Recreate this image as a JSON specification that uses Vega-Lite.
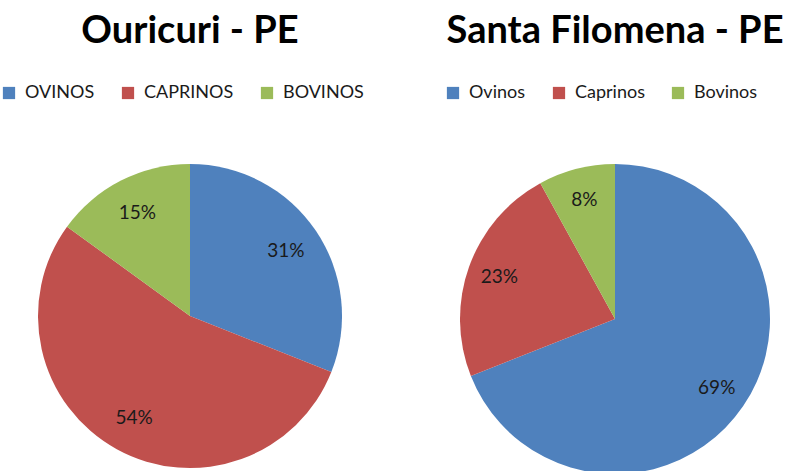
{
  "$schema": "https://vega.github.io/schema/vega-lite/v6.json",
  "background": "white",
  "padding": {"top": 13, "left": 0, "right": 0, "bottom": 0},
  "spacing": 64,
  "config": {
    "view": {"stroke": null},
    "font": "Lato",
    "title": {"fontSize": 38, "fontWeight": "bold", "color": "#000000", "frame": "group", "anchor": "middle", "offset": 33},
    "legend": {
      "orient": "top",
      "direction": "horizontal",
      "title": null,
      "symbolType": "square",
      "symbolSize": 150,
      "symbolStrokeWidth": 0,
      "symbolOpacity": 1,
      "labelFontSize": 18,
      "labelColor": "#1a1a1a",
      "labelOffset": 7,
      "columnPadding": 24,
      "padding": 0,
      "offset": 7
    }
  },
  "hconcat": [
    {
      "width": 380,
      "height": 414,
      "title": "Ouricuri - PE",
      "data": {"values": [
        {"categoria": "OVINOS", "fracao": 0.31, "ordem": 1},
        {"categoria": "CAPRINOS", "fracao": 0.54, "ordem": 2},
        {"categoria": "BOVINOS", "fracao": 0.15, "ordem": 3}
      ]},
      "encoding": {
        "theta": {"field": "fracao", "type": "quantitative", "stack": true},
        "order": {"field": "ordem", "type": "quantitative"}
      },
      "layer": [
        {
          "mark": {"type": "arc", "outerRadius": 152},
          "encoding": {
            "color": {
              "field": "categoria", "type": "nominal",
              "scale": {"domain": ["OVINOS", "CAPRINOS", "BOVINOS"], "range": ["#4F81BD", "#C0504D", "#9BBB59"]},
              "legend": {"title": null}
            }
          }
        },
        {
          "mark": {"type": "text", "radius": 116, "fontSize": 19, "color": "#1a1a1a"},
          "encoding": {"text": {"field": "fracao", "type": "quantitative", "format": ".0%"}}
        }
      ]
    },
    {
      "width": 342,
      "height": 420,
      "title": "Santa Filomena - PE",
      "data": {"values": [
        {"categoria": "Ovinos", "fracao": 0.69, "ordem": 1},
        {"categoria": "Caprinos", "fracao": 0.23, "ordem": 2},
        {"categoria": "Bovinos", "fracao": 0.08, "ordem": 3}
      ]},
      "encoding": {
        "theta": {"field": "fracao", "type": "quantitative", "stack": true},
        "order": {"field": "ordem", "type": "quantitative"}
      },
      "layer": [
        {
          "mark": {"type": "arc", "outerRadius": 155},
          "encoding": {
            "color": {
              "field": "categoria", "type": "nominal",
              "scale": {"domain": ["Ovinos", "Caprinos", "Bovinos"], "range": ["#4F81BD", "#C0504D", "#9BBB59"]},
              "legend": {"title": null}
            }
          }
        },
        {
          "mark": {"type": "text", "radius": 123, "fontSize": 19, "color": "#1a1a1a"},
          "encoding": {"text": {"field": "fracao", "type": "quantitative", "format": ".0%"}}
        }
      ]
    }
  ],
  "resolve": {"scale": {"color": "independent"}, "legend": {"color": "independent"}}
}
